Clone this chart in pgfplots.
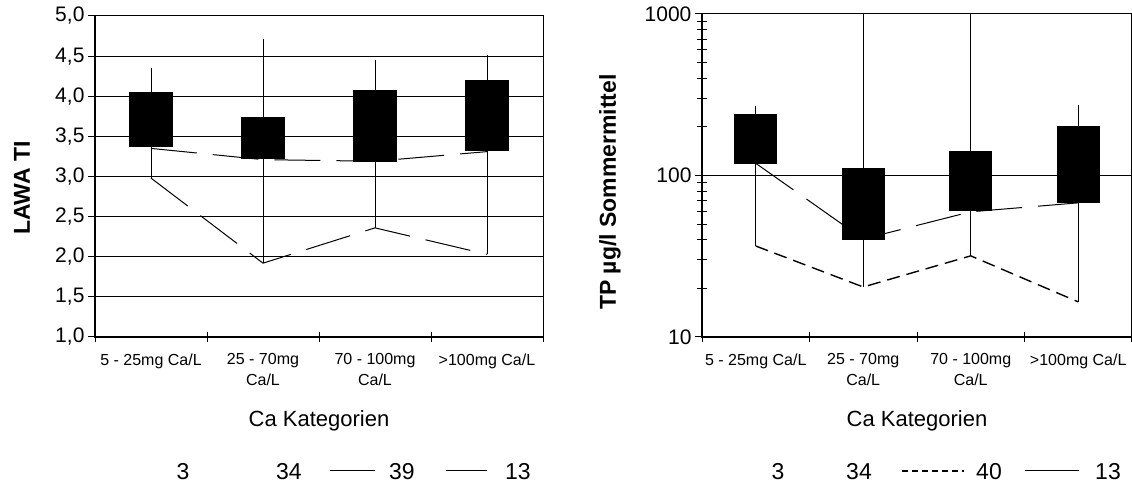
\documentclass[border=0pt]{standalone}
\usepackage{fontspec}
\setmainfont{Liberation Sans}
\usepackage{pgfplots}
\pgfplotsset{compat=1.18}

\pgfplotsset{
  common/.style={
    scale only axis,
    xmin=0.5, xmax=4.5,
    xtick={1,2,3,4},
    xticklabels={5 - 25mg Ca/L, {25 - 70mg\\Ca/L}, {70 - 100mg\\Ca/L}, >100mg Ca/L},
    minor xtick={0.5,1.5,2.5,3.5,4.5},
    xtick pos=left, ytick pos=left,
    tick align=center,
    major tick length=3.5pt, minor tick length=5pt,
    every major x tick/.append style={draw=none},
    every major y tick/.append style={xshift=-1.75pt},
    tick style={black, line width=0.5pt},
    ymajorgrids, xmajorgrids=false,
    major grid style={black, line width=0.5pt},
    axis line style={line width=0.5pt},
    /pgf/number format/assume math mode=true,
    yticklabel style={font=\fontsize{10.5}{12}\selectfont},
    xticklabel style={font=\fontsize{8}{10.5}\selectfont, align=center, anchor=north, yshift=-3pt},
    xlabel={Ca Kategorien},
    xlabel style={font=\fontsize{11}{13}\selectfont, at={(axis description cs:0.5,0)}, anchor=base, yshift=-45pt},
    ylabel style={font=\bfseries\fontsize{11.5}{14}\selectfont, anchor=center},
  },
  whisk/.style={black, line width=0.5pt, unbounded coords=jump, forget plot},
  boxs/.style={fill=black, draw=black, line width=0.5pt, forget plot},
  longdash/.style={black, line width=0.5pt, dash pattern=on 23pt off 8pt, forget plot},
  shortdash/.style={black, line width=0.7pt, dash pattern=on 6.5pt off 3.5pt, forget plot},
}

\begin{document}
\begin{tikzpicture}
\useasboundingbox (0,0) rectangle (566pt,-242.5pt);

% ---------------- left panel ----------------
\begin{axis}[common, name=L,
  at={(47.5pt,-168.5pt)}, anchor=south west,
  width=224pt, height=160.5pt,
  ymin=1, ymax=5,
  ytick={1,1.5,2,2.5,3,3.5,4,4.5,5},
  yticklabel style={/pgf/number format/.cd, fixed, fixed zerofill, precision=1, use comma},
  ylabel={LAWA TI},
  ylabel style={at={(axis description cs:-0.163,0.464)}},
]
% high-low lines
\addplot[whisk] coordinates {(1,2.98) (1,4.35) (1,nan) (2,1.92) (2,4.71) (2,nan) (3,2.36) (3,4.45) (3,nan) (4,2.03) (4,4.51)};
% boxes
\addplot[boxs] coordinates {(0.805,3.37) (1.195,3.37) (1.195,4.05) (0.805,4.05)} -- cycle;
\addplot[boxs] coordinates {(1.805,3.22) (2.195,3.22) (2.195,3.73) (1.805,3.73)} -- cycle;
\addplot[boxs] coordinates {(2.805,3.19) (3.195,3.19) (3.195,4.07) (2.805,4.07)} -- cycle;
\addplot[boxs] coordinates {(3.805,3.33) (4.195,3.33) (4.195,4.20) (3.805,4.20)} -- cycle;
% series lines
\addplot[longdash] coordinates {(1,3.35) (2,3.21) (3,3.19) (4,3.31)};
\addplot[longdash] coordinates {(1,2.98) (2,1.92) (3,2.36) (4,2.03)};
\end{axis}
\draw[line width=1pt] (L.north west) -- (L.south west) -- (L.south east);

% ---------------- right panel ----------------
\begin{axis}[common, name=R,
  at={(351pt,-168.5pt)}, anchor=south west,
  width=215pt, height=161.5pt,
  ymode=log, ymin=10, ymax=1000,
  ytick={10,100,1000}, yticklabels={10,100,1000},
  ylabel={TP µg/l Sommermittel},
  ylabel style={at={(axis description cs:-0.214,0.449)}},
]
\addplot[whisk] coordinates {(1,36.6) (1,269) (1,nan) (2,20.4) (2,3000) (2,nan) (3,31.8) (3,3000) (3,nan) (4,16.5) (4,273)};
\addplot[boxs] coordinates {(0.805,119) (1.195,119) (1.195,240) (0.805,240)} -- cycle;
\addplot[boxs] coordinates {(1.805,40.4) (2.195,40.4) (2.195,110) (1.805,110)} -- cycle;
\addplot[boxs] coordinates {(2.805,60.3) (3.195,60.3) (3.195,140) (2.805,140)} -- cycle;
\addplot[boxs] coordinates {(3.805,68.5) (4.195,68.5) (4.195,200) (3.805,200)} -- cycle;
\addplot[longdash] coordinates {(1,119) (2,40.4) (3,59.6) (4,67.7)};
\addplot[shortdash] coordinates {(1,36.6) (2,20.4) (3,31.8) (4,16.5)};
\end{axis}
\draw[line width=1pt] (R.north west) -- (R.south west) -- (R.south east);

% ---------------- legends ----------------
\begin{scope}[every node/.style={font=\fontsize{11.5}{13}\selectfont, anchor=base, inner sep=0pt}]
\node at (91.5pt,-240pt) {3};
\node at (144.5pt,-240pt) {34};
\draw[line width=0.5pt] (165pt,-235.5pt) -- (187.5pt,-235.5pt);
\node at (201pt,-240pt) {39};
\draw[line width=0.5pt] (223pt,-235.5pt) -- (243.5pt,-235.5pt);
\node at (259pt,-240pt) {13};

\node at (389pt,-240pt) {3};
\node at (429.5pt,-240pt) {34};
\draw[line width=0.7pt, dash pattern=on 3pt off 2pt] (451pt,-235.5pt) -- (482pt,-235.5pt);
\node at (494.5pt,-240pt) {40};
\draw[line width=0.5pt] (512.5pt,-235.5pt) -- (539.5pt,-235.5pt);
\node at (554pt,-240pt) {13};
\end{scope}
\end{tikzpicture}
\end{document}
